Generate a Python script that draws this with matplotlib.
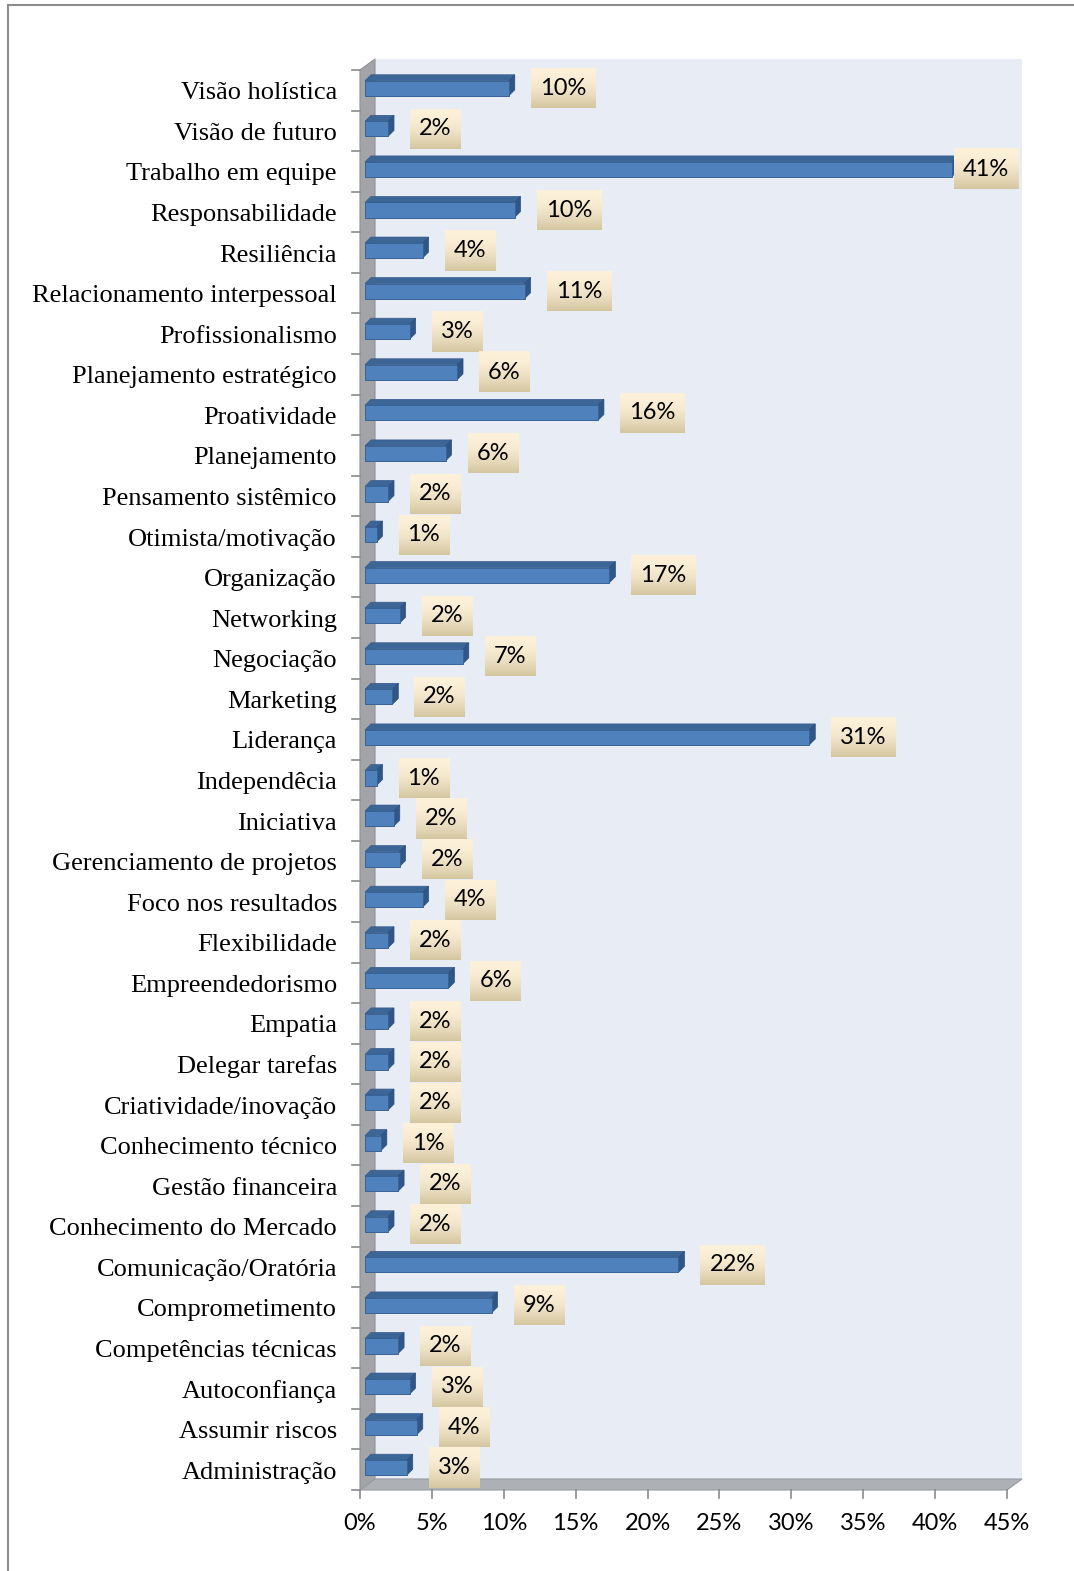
import numpy as np
import matplotlib
matplotlib.use("Agg")
import matplotlib.pyplot as plt
from matplotlib.patches import Polygon
from matplotlib.lines import Line2D
from matplotlib.transforms import offset_copy, IdentityTransform

# ---- data -------------------------------------------------------------
categories = [
    "Visão holística", "Visão de futuro", "Trabalho em equipe", "Responsabilidade",
    "Resiliência", "Relacionamento interpessoal", "Profissionalismo",
    "Planejamento estratégico", "Proatividade", "Planejamento", "Pensamento sistêmico",
    "Otimista/motivação", "Organização", "Networking", "Negociação", "Marketing",
    "Liderança", "Independêcia", "Iniciativa", "Gerenciamento de projetos",
    "Foco nos resultados", "Flexibilidade", "Empreendedorismo", "Empatia",
    "Delegar tarefas", "Criatividade/inovação", "Conhecimento técnico",
    "Gestão financeira", "Conhecimento do Mercado", "Comunicação/Oratória",
    "Comprometimento", "Competências técnicas", "Autoconfiança", "Assumir riscos",
    "Administração",
]
values = [
    10.0, 1.6, 40.8, 10.4, 4.0, 11.1, 3.1, 6.4, 16.2, 5.6, 1.6, 0.8, 17.0, 2.4,
    6.8, 1.9, 30.9, 0.8, 2.0, 2.4, 4.0, 1.6, 5.8, 1.6, 1.6, 1.6, 1.1, 2.3, 1.6,
    21.8, 8.8, 2.3, 3.1, 3.6, 2.9,
]
x_ticks = [0, 5, 10, 15, 20, 25, 30, 35, 40, 45]
x_tick_labels = [f"{t}%" for t in x_ticks]

# ---- styling ----------------------------------------------------------
W, H = 1074, 1571
DPI = 100
SERIF = "Liberation Serif"
SANS = "Lato"
FRONT = "#4F81BD"
TOP_FACE = "#3D6698"
SIDE_FACE = "#2F5686"
BACK_WALL = "#E8ECF4"
SIDE_WALL = "#A3A4A7"
FLOOR = "#ADB0B5"
DEPTH_X, DEPTH_Y = 15, 11      # depth of the chart box (pixels)
BAR_DEPTH = 6                  # depth of each bar (pixels)
BAR_SHIFT = (5, 2)             # bar front face position inside the box
BAR_H = 0.37
LABEL_GAP = 16
PAD_X, BOX_H = 9, 40

fig = plt.figure(figsize=(W / DPI, H / DPI), dpi=DPI)
fig.patch.set_facecolor("white")

# axes covering the front plane of the category band
X0, X45, TOP, BOT = 360, 1007, 70, 1490
ax = fig.add_axes([X0 / W, 1 - BOT / H, (X45 - X0) / W, (BOT - TOP) / H])
n = len(categories)
ax.set_xlim(0, 45)
ax.set_ylim(n - 0.5, -0.5)
ax.axis("off")
ident = IdentityTransform()


def disp(x, y):
    return ax.transData.transform((x, y))


def add_poly(pts, color, z, ec="none", lw=0):
    p = Polygon(pts, closed=True, facecolor=color, edgecolor=ec, linewidth=lw,
                transform=ident, clip_on=False, zorder=z)
    ax.add_patch(p)
    return p


# ---- 3D box: back wall, side wall, floor --------------------------------
fl, fb = disp(0, n - 0.5)
fr, ft = disp(45, -0.5)
back_right = fr + DEPTH_X
add_poly([(fl + DEPTH_X, fb + DEPTH_Y), (fr + DEPTH_X, fb + DEPTH_Y),
          (fr + DEPTH_X, ft + DEPTH_Y), (fl + DEPTH_X, ft + DEPTH_Y)], BACK_WALL, 0.5)
add_poly([(fl, fb), (fl, ft), (fl + DEPTH_X, ft + DEPTH_Y), (fl + DEPTH_X, fb + DEPTH_Y)],
         SIDE_WALL, 0.6, ec="#909194", lw=0.8)
add_poly([(fl, fb), (fr, fb), (fr + DEPTH_X, fb + DEPTH_Y), (fl + DEPTH_X, fb + DEPTH_Y)],
         FLOOR, 0.7, ec="#989BA0", lw=0.8)

# ---- bars ---------------------------------------------------------------
tr_front = offset_copy(ax.transData, fig=fig, x=BAR_SHIFT[0], y=BAR_SHIFT[1], units="dots")
bars = ax.barh(range(n), values, height=BAR_H, color=FRONT, edgecolor="#3A6395",
               linewidth=0.7, transform=tr_front, zorder=4, clip_on=False)

bar_boxes = []
for b in bars:
    bb = b.get_window_extent()
    xl, xr, yb, yt = bb.x0, bb.x1, bb.y0, bb.y1
    d = BAR_DEPTH
    add_poly([(xl, yt), (xr, yt), (xr + d, yt + d), (xl + d, yt + d)], TOP_FACE, 3.9,
             ec="#34598A", lw=0.5)
    add_poly([(xr, yb), (xr, yt), (xr + d, yt + d), (xr + d, yb + d)], SIDE_FACE, 3.9,
             ec="#2A4E7C", lw=0.5)
    bar_boxes.append((xr, 0.5 * (yb + yt)))

# ---- value labels -------------------------------------------------------
labels = []
for i, v in enumerate(values):
    t = ax.annotate(f"{v:.0f}%", xy=(v, i), xycoords="data",
                    xytext=(BAR_SHIFT[0] + BAR_DEPTH + LABEL_GAP + PAD_X, BAR_SHIFT[1]),
                    textcoords="offset pixels", ha="left", va="center",
                    fontsize=17, family=SANS, color="black", zorder=8,
                    annotation_clip=False)
    labels.append(t)

fig.canvas.draw()
renderer = fig.canvas.get_renderer()

# keep every label box inside the chart's back wall
for t in labels:
    tb = t.get_window_extent(renderer)
    overflow = tb.x1 + PAD_X - back_right
    if overflow > 0:
        ox, oy = t.xyann
        t.xyann = (ox - overflow - 4, oy)
fig.canvas.draw()

inv = ax.transData.inverted()
rows = np.linspace(0, 1, 64) ** 1.8
top_c = np.array([253, 241, 218]) / 255
bot_c = np.array([212, 198, 160]) / 255
grad = (top_c[None, :] * (1 - rows[:, None]) + bot_c[None, :] * rows[:, None])[:, None, :]
for t, (xr, yc) in zip(labels, bar_boxes):
    tb = t.get_window_extent(renderer)
    x0, x1 = tb.x0 - PAD_X, tb.x1 + PAD_X
    y0, y1 = yc - BOX_H / 2, yc + BOX_H / 2
    dx0, dy0 = inv.transform((x0, y0))
    dx1, dy1 = inv.transform((x1, y1))
    im = ax.imshow(grad, extent=(dx0, dx1, dy0, dy1), origin="upper", aspect="auto",
                   interpolation="bilinear", zorder=7)
    im.set_clip_on(False)

ax.set_xlim(0, 45)
ax.set_ylim(n - 0.5, -0.5)

# ---- axes ticks and labels ---------------------------------------------
for t, lab in zip(x_ticks, x_tick_labels):
    x, _ = disp(t, n - 0.5)
    ax.add_line(Line2D([x, x], [fb, fb - 8], transform=ident, color="#8A8A8A",
                       lw=1.2, clip_on=False))
    ax.text(x, fb - 33, lab, transform=ident, ha="center", va="center",
            fontsize=17, family=SANS, color="black")

for k in range(n + 1):
    _, y = disp(0, k - 0.5)
    ax.add_line(Line2D([fl - 8, fl], [y, y], transform=ident, color="#8A8A8A",
                       lw=1.2, clip_on=False))

for i, cat in enumerate(categories):
    ax.annotate(cat, xy=(0, i), xycoords="data", xytext=(-23, -9),
                textcoords="offset pixels", ha="right", va="baseline",
                fontsize=19, family=SERIF, color="black", annotation_clip=False)

# ---- outer frame --------------------------------------------------------
fig.add_artist(Line2D([8, W], [H - 5, H - 5], transform=ident, color="#8C8C8C", lw=1.5))
fig.add_artist(Line2D([8, 8], [0, H - 5], transform=ident, color="#8C8C8C", lw=1.5))

fig.savefig("out.png", dpi=DPI)
